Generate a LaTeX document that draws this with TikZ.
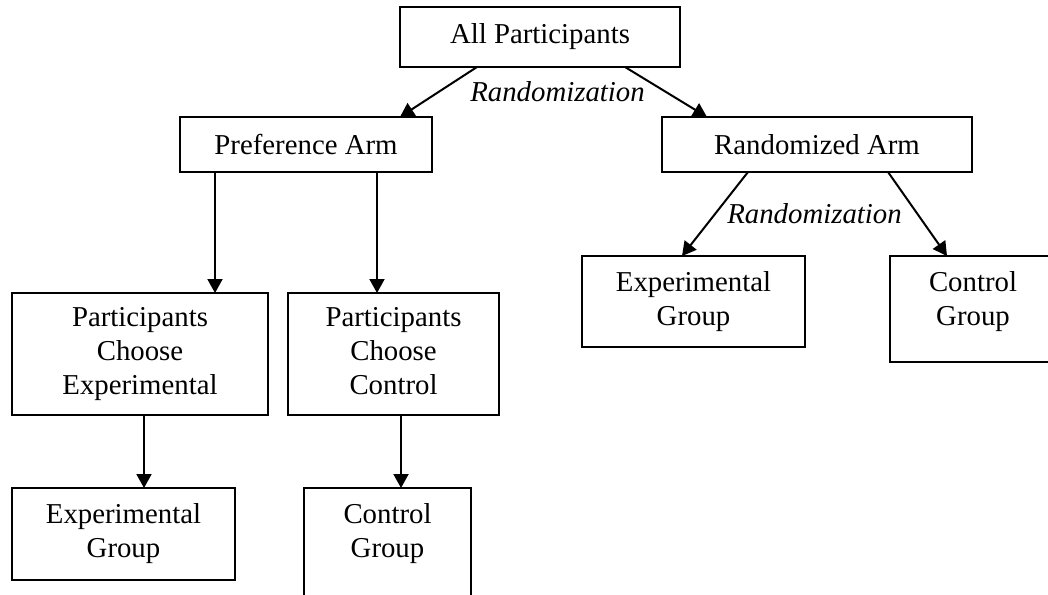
\documentclass[tikz,border=0pt]{standalone}
\usepackage{fontspec}
\setmainfont{Liberation Serif}
\usetikzlibrary{arrows.meta}
\begin{document}
\begin{tikzpicture}[x=1pt,y=-1pt,
  box/.style={draw, line width=2pt, inner sep=0pt, outer sep=0pt, align=center, font=\fontsize{28.8}{34}\selectfont},
  lbl/.style={inner sep=0pt, align=center, font=\fontsize{28.8}{34}\selectfont},
  ital/.style={inner sep=0pt, anchor=base, font=\fontsize{28.8}{34}\selectfont\itshape},
  arr/.style={line width=2pt, -{Triangle[length=14pt,width=15pt]}},
]
\useasboundingbox (0,0) rectangle (1048,594);
\clip (0,0) rectangle (1048,594);
% boxes
\node[box, minimum width=280pt, minimum height=60pt] (all) at (540,37) {All Participants};
\node[box, minimum width=252pt, minimum height=55pt] (pref) at (306,144.5) {Preference Arm};
\node[box, minimum width=310pt, minimum height=55pt] (rand) at (817,144.5) {Randomized Arm};
\node[box, minimum width=256pt, minimum height=122pt] (pce) at (140,354) {\strut Participants\\Choose\\Experimental\strut};
\node[box, minimum width=211pt, minimum height=122pt] (pcc) at (393.5,354) {\strut Participants\\Choose\\Control\strut};
\node[box, minimum width=223pt, minimum height=92pt] (eg1) at (123.5,534) {Experimental\\Group};
\node[box, minimum width=167pt, minimum height=110pt] (cg1) at (387.5,543) {};
\node[lbl] (cg1t) at (387.5,534) {Control\\Group};
\node[box, minimum width=223pt, minimum height=91pt] (eg2) at (693.5,301.5) {Experimental\\Group};
\node[box, minimum width=166pt, minimum height=106pt] (cg2) at (973,309) {};
\node[lbl] (cg2t) at (973,301.5) {Control\\Group};
% labels
\node[ital] (r1) at (557.5,101) {Randomization};
\node[ital] (r2) at (814.5,223) {Randomization};
% connectors
\draw[arr] ([xshift=77pt]all.south west) -- ([xshift=220pt]pref.north west);
\draw[arr] ([xshift=225pt]all.south west) -- ([xshift=45pt]rand.north west);
\draw[arr] ([xshift=35pt]pref.south west) -- ([xshift=203pt]pce.north west);
\draw[arr] ([xshift=197pt]pref.south west) -- ([xshift=89pt]pcc.north west);
\draw[arr] ([xshift=86pt]rand.south west) -- ([xshift=100pt]eg2.north west);
\draw[arr] ([xshift=226pt]rand.south west) -- ([xshift=57pt]cg2.north west);
\draw[arr] ([xshift=132pt]pce.south west) -- ([xshift=132pt]eg1.north west);
\draw[arr] ([xshift=113pt]pcc.south west) -- ([xshift=97pt]cg1.north west);
\end{tikzpicture}
\end{document}
